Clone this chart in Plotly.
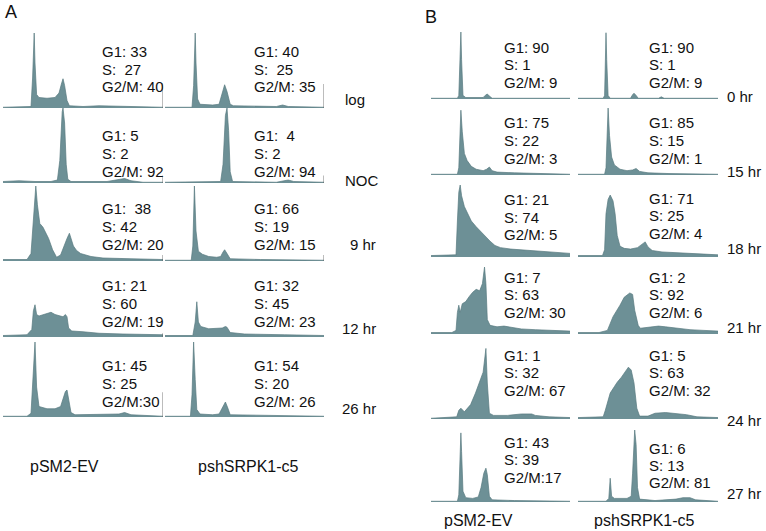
import plotly.graph_objects as go

# channel (0-200) and relative count (0-100)
# panel A
a_log_ev_ch = [0, 30, 35, 37, 39, 40, 42, 45, 55, 65, 70, 73, 75, 77, 80, 83, 100, 120, 140, 160, 200]
a_log_ev_n = [1, 1, 2, 40, 100, 60, 18, 14, 13, 14, 20, 32, 39, 30, 10, 3, 2, 3, 3, 2, 1]
a_log_sh_ch = [0, 34, 36, 38, 39, 41, 44, 60, 68, 71, 75, 78, 82, 86, 140, 148, 155, 200]
a_log_sh_n = [1, 1, 30, 100, 60, 12, 5, 4, 5, 15, 31, 22, 5, 3, 2, 4, 2, 1]

a_noc_ev_ch = [0, 20, 40, 60, 68, 71, 74, 75, 77, 79, 81, 85, 130, 145, 152, 160, 175, 200]
a_noc_ev_n = [2, 3, 2, 2, 4, 30, 95, 100, 80, 25, 5, 2, 2, 5, 6, 3, 1, 1]
a_noc_sh_ch = [0, 40, 70, 73, 76, 78, 80, 82, 85, 140, 148, 155, 162, 200]
a_noc_sh_n = [1, 1, 2, 25, 90, 100, 70, 15, 2, 1, 3, 4, 2, 1]

a_9h_ev_ch = [0, 30, 35, 38, 41, 43, 46, 50, 53, 57, 62, 67, 72, 76, 80, 83, 85, 88, 92, 97, 110, 125, 160, 200]
a_9h_ev_n = [2, 2, 10, 60, 100, 75, 50, 45, 38, 30, 15, 5, 8, 20, 30, 37, 30, 20, 14, 10, 6, 4, 3, 2]
a_9h_sh_ch = [0, 33, 35, 37, 39, 42, 47, 55, 65, 70, 73, 75, 78, 82, 120, 200]
a_9h_sh_n = [1, 1, 20, 100, 40, 13, 9, 6, 5, 6, 12, 15, 10, 3, 2, 1]

a_12h_ev_ch = [0, 30, 36, 38, 40, 42, 45, 50, 55, 60, 65, 70, 75, 78, 80, 82, 86, 100, 120, 150, 200]
a_12h_ev_n = [2, 3, 10, 35, 43, 30, 28, 30, 32, 33, 30, 28, 27, 30, 27, 12, 8, 7, 5, 4, 3]
a_12h_sh_ch = [0, 35, 38, 40, 42, 45, 55, 65, 72, 76, 78, 82, 100, 150, 200]
a_12h_sh_n = [2, 2, 20, 47, 20, 14, 11, 11, 12, 14, 13, 6, 4, 3, 2]

a_26h_ev_ch = [0, 30, 35, 38, 40, 42, 45, 55, 65, 72, 75, 78, 80, 82, 85, 90, 120, 145, 152, 160, 200]
a_26h_ev_n = [1, 1, 5, 60, 100, 40, 14, 11, 11, 14, 25, 34, 36, 25, 6, 3, 3, 4, 6, 3, 1]
a_26h_sh_ch = [0, 32, 34, 36, 38, 40, 44, 60, 68, 72, 76, 79, 82, 200]
a_26h_sh_n = [1, 1, 30, 100, 50, 10, 4, 3, 4, 12, 20, 12, 3, 1]

# panel B
b_0h_ev_ch = [0, 38, 40, 42, 43, 44, 46, 50, 75, 78, 81, 84, 88, 200]
b_0h_ev_n = [1, 1, 5, 60, 93, 55, 5, 2, 2, 5, 7, 4, 1, 1]
b_0h_sh_ch = [0, 36, 38, 39, 40, 41, 43, 46, 75, 78, 80, 83, 86, 115, 119, 123, 200]
b_0h_sh_n = [1, 1, 5, 60, 92, 55, 5, 1, 1, 6, 8, 5, 1, 1, 3, 1, 1]

b_15h_ev_ch = [0, 38, 40, 42, 43, 45, 48, 52, 58, 65, 75, 80, 84, 88, 95, 120, 150, 200]
b_15h_ev_n = [1, 1, 10, 70, 90, 60, 30, 20, 12, 8, 6, 8, 11, 6, 4, 3, 2, 1]
b_15h_sh_ch = [0, 38, 40, 42, 43, 45, 48, 52, 60, 70, 78, 83, 88, 100, 130, 200]
b_15h_sh_n = [1, 1, 10, 70, 93, 55, 25, 14, 8, 6, 7, 9, 5, 3, 2, 1]

b_18h_ev_ch = [0, 30, 36, 38, 40, 42, 44, 48, 52, 58, 65, 72, 78, 85, 92, 100, 115, 130, 150, 170, 185, 200]
b_18h_ev_n = [2, 2, 3, 50, 90, 100, 85, 70, 62, 50, 42, 35, 28, 22, 16, 13, 11, 10, 9, 8, 7, 5]
b_18h_sh_ch = [0, 35, 38, 40, 43, 46, 50, 53, 56, 60, 66, 75, 85, 92, 96, 100, 106, 120, 150, 180, 200]
b_18h_sh_n = [2, 2, 10, 60, 80, 86, 78, 60, 30, 15, 12, 11, 13, 18, 21, 14, 9, 7, 6, 4, 3]

b_21h_ev_ch = [0, 30, 36, 38, 40, 42, 45, 50, 55, 60, 65, 70, 74, 77, 79, 81, 85, 95, 105, 115, 130, 150, 175, 200]
b_21h_ev_n = [2, 2, 5, 30, 40, 30, 42, 45, 52, 58, 62, 60, 70, 93, 70, 20, 12, 10, 11, 9, 7, 6, 5, 4]
b_21h_sh_ch = [0, 30, 42, 50, 60, 66, 74, 78, 81, 86, 89, 100, 115, 125, 140, 160, 180, 200]
b_21h_sh_n = [2, 2, 5, 24, 40, 51, 57, 55, 33, 12, 8, 9, 11, 10, 8, 6, 5, 4]

b_24h_ev_ch = [0, 30, 37, 40, 43, 48, 52, 57, 64, 71, 75, 79, 81, 84, 90, 110, 130, 145, 150, 170, 200]
b_24h_ev_n = [1, 2, 3, 12, 15, 10, 14, 20, 36, 54, 65, 98, 50, 8, 5, 5, 7, 7, 5, 3, 2]
b_24h_sh_ch = [0, 30, 36, 39, 46, 52, 56, 62, 68, 72, 76, 80, 84, 88, 100, 110, 125, 140, 155, 170, 200]
b_24h_sh_n = [2, 2, 3, 12, 36, 45, 51, 58, 66, 72, 68, 50, 15, 4, 4, 8, 9, 8, 6, 3, 2]

b_27h_ev_ch = [0, 38, 40, 42, 43, 44, 46, 50, 60, 68, 72, 76, 79, 81, 84, 88, 120, 200]
b_27h_ev_n = [1, 1, 10, 80, 96, 70, 15, 6, 5, 7, 20, 40, 47, 38, 8, 3, 2, 1]
b_27h_sh_ch = [0, 40, 44, 45, 46, 48, 52, 70, 76, 78, 80, 81, 83, 85, 88, 110, 140, 150, 160, 168, 200]
b_27h_sh_n = [1, 1, 5, 30, 33, 8, 5, 5, 8, 40, 85, 100, 80, 20, 4, 2, 4, 6, 6, 3, 1]

a_rows = ["log", "NOC", "9 hr", "12 hr", "26 hr"]
b_rows = ["0 hr", "15 hr", "18 hr", "21 hr", "24 hr", "27 hr"]
lines = ["pSM2-EV", "pshSRPK1-c5"]

a_hists = [[(a_log_ev_ch, a_log_ev_n), (a_log_sh_ch, a_log_sh_n)],
           [(a_noc_ev_ch, a_noc_ev_n), (a_noc_sh_ch, a_noc_sh_n)],
           [(a_9h_ev_ch, a_9h_ev_n), (a_9h_sh_ch, a_9h_sh_n)],
           [(a_12h_ev_ch, a_12h_ev_n), (a_12h_sh_ch, a_12h_sh_n)],
           [(a_26h_ev_ch, a_26h_ev_n), (a_26h_sh_ch, a_26h_sh_n)]]
b_hists = [[(b_0h_ev_ch, b_0h_ev_n), (b_0h_sh_ch, b_0h_sh_n)],
           [(b_15h_ev_ch, b_15h_ev_n), (b_15h_sh_ch, b_15h_sh_n)],
           [(b_18h_ev_ch, b_18h_ev_n), (b_18h_sh_ch, b_18h_sh_n)],
           [(b_21h_ev_ch, b_21h_ev_n), (b_21h_sh_ch, b_21h_sh_n)],
           [(b_24h_ev_ch, b_24h_ev_n), (b_24h_sh_ch, b_24h_sh_n)],
           [(b_27h_ev_ch, b_27h_ev_n), (b_27h_sh_ch, b_27h_sh_n)]]

# G1 / S / G2/M percentages as printed
a_stats = [[["G1: 33", "S:  27", "G2/M: 40"], ["G1: 40", "S:  25", "G2/M: 35"]],
           [["G1: 5", "S: 2", "G2/M: 92"], ["G1:  4", "S: 2", "G2/M: 94"]],
           [["G1:  38", "S: 42", "G2/M: 20"], ["G1: 66", "S: 19", "G2/M: 15"]],
           [["G1: 21", "S: 60", "G2/M: 19"], ["G1: 32", "S: 45", "G2/M: 23"]],
           [["G1: 45", "S: 25", "G2/M:30"], ["G1: 54", "S: 20", "G2/M: 26"]]]
b_stats = [[["G1: 90", "S: 1", "G2/M: 9"], ["G1: 90", "S: 1", "G2/M: 9"]],
           [["G1: 75", "S: 22", "G2/M: 3"], ["G1: 85", "S: 15", "G2/M: 1"]],
           [["G1: 21", "S: 74", "G2/M: 5"], ["G1: 71", "S: 25", "G2/M: 4"]],
           [["G1: 7", "S: 63", "G2/M: 30"], ["G1: 2", "S: 92", "G2/M: 6"]],
           [["G1: 1", "S: 32", "G2/M: 67"], ["G1: 5", "S: 63", "G2/M: 32"]],
           [["G1: 43", "S: 39", "G2/M:17"], ["G1: 6", "S: 13", "G2/M: 81"]]]

W, H = 766, 531
FILL = "#6d9096"
EDGE = "#587a80"
FONT = "Liberation Sans, Arial, sans-serif"

fig = go.Figure()
layout = {}
shapes = []
annos = []
k = 0


def px(x, y):
    return x / W, 1 - y / H


def add_hist(ch, n, x0, x1, base, h, tick=0):
    global k
    k += 1
    s = "" if k == 1 else str(k)
    fig.add_trace(go.Scatter(x=ch, y=n, mode="lines", fill="tozeroy",
                             fillcolor=FILL, line=dict(color=EDGE, width=0.7),
                             xaxis="x" + s, yaxis="y" + s, hoverinfo="skip",
                             showlegend=False))
    layout["xaxis" + s] = dict(domain=[x0 / W, x1 / W], range=[0, 200],
                               visible=False, anchor="y" + s)
    layout["yaxis" + s] = dict(domain=[1 - base / H, 1 - (base - h) / H],
                               range=[0, 100], visible=False, anchor="x" + s)
    if tick:
        shapes.append(dict(type="line", xref="x" + s, yref="y" + s,
                           x0=200, x1=200, y0=0, y1=tick,
                           line=dict(color="#555", width=0.8)))


def text(x, y, t, size=15, anchor="left"):
    xx, yy = px(x, y)
    annos.append(dict(x=xx, y=yy, xref="paper", yref="paper", text=t.replace("  ", "\u00a0\u00a0"),
                      showarrow=False, xanchor=anchor, yanchor="middle",
                      font=dict(family=FONT, size=size, color="#111")))


# panel A
a_cols = [(3, 163), (165, 324)]
a_base = [108, 183, 261, 337, 417]
a_ticks = [[33, 32], [10, 10], [8, 8], [5, 0], [33, 0]]
a_text_y = [51, 135, 208, 285, 365]
a_text_x = [100, 252]
a_lab = [(343, 100), (343, 180), (348, 245), (340, 328), (340, 408)]
for r in range(5):
    for c in range(2):
        ch, n = a_hists[r][c]
        add_hist(ch, n, a_cols[c][0], a_cols[c][1], a_base[r], 75, a_ticks[r][c])
        for i, t in enumerate(a_stats[r][c]):
            text(a_text_x[c], a_text_y[r] + 18 * i, t)
    text(a_lab[r][0], a_lab[r][1], a_rows[r])

# panel B
b_cols = [(431, 570), (578, 718)]
b_base = [99, 175, 257, 334, 419, 502]
b_text_y = [[47, 123, 200, 277, 355, 442], [47, 123, 198, 277, 355, 448]]
b_text_x = [502, 647]
b_lab_y = [96, 171, 248, 327, 420, 493]
for r in range(6):
    for c in range(2):
        ch, n = b_hists[r][c]
        add_hist(ch, n, b_cols[c][0], b_cols[c][1], b_base[r], 72)
        for i, t in enumerate(b_stats[r][c]):
            text(b_text_x[c], b_text_y[c][r] + 17.5 * i, t)
    text(725, b_lab_y[r], b_rows[r])

text(28, 466, lines[0], 16)
text(196, 466, lines[1], 16)
text(442, 520, lines[0], 16)
text(592, 520, lines[1], 16)
text(3, 12, "A", 18)
text(423, 17, "B", 18)

fig.update_layout(width=W, height=H, margin=dict(l=0, r=0, t=0, b=0),
                  paper_bgcolor="white", plot_bgcolor="white",
                  shapes=shapes, annotations=annos, **layout)
# the page's default body margin would push the figure off by 8px
fig.write_html("out.html", config={"displayModeBar": False},
               post_script="document.body.style.margin='0';document.body.style.overflow='hidden';")
